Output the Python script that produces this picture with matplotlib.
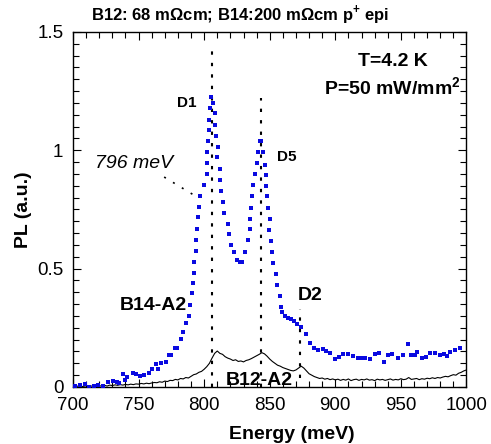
import matplotlib
matplotlib.use("Agg")
import matplotlib.pyplot as plt
from matplotlib.ticker import MultipleLocator

plt.rcParams['font.family'] = ['Liberation Sans', 'DejaVu Sans']
plt.rcParams['mathtext.fontset'] = 'custom'
plt.rcParams['mathtext.rm'] = 'Liberation Sans'
plt.rcParams['mathtext.bf'] = 'Liberation Sans:bold'

# B14-A2 (blue squares)
b14_energy = [701.5, 705.0, 709.2, 712.4, 716.0, 719.3, 723.1, 726.5, 730.3, 733.3,
              735.1, 737.9, 739.7, 741.5, 745.6, 747.9, 751.1, 754.2, 758.0, 760.1,
              763.4, 765.1, 767.0, 770.8, 773.3, 775.0, 777.9, 779.5, 782.2, 784.2,
              786.3, 788.1, 789.3, 790.4, 791.4, 792.4, 792.6, 793.4, 793.6, 794.9,
              795.1, 795.7, 796.5, 800.0, 801.8, 802.0, 802.5, 803.3, 803.5, 803.6,
              804.6, 805.3, 807.0, 807.9, 808.6, 809.4, 810.4, 810.1, 811.7, 812.4,
              813.2, 814.7, 815.5, 817.8, 819.1, 820.4, 822.4, 825.0, 827.0, 828.8,
              831.5, 833.8, 834.6, 835.3, 835.5, 836.1, 837.6, 838.4, 840.4, 840.7,
              842.5, 843.7, 844.8, 846.6, 847.1, 847.3, 848.1, 848.6, 849.9, 849.6,
              850.6, 851.7, 852.4, 854.7, 855.5, 857.5, 858.8, 859.3, 861.3, 863.6,
              866.4, 868.2, 870.8, 874.1, 877.9, 880.9, 883.4, 886.8, 890.3, 893.0,
              896.2, 899.5, 902.5, 905.6, 909.7, 913.2, 917.0, 920.4, 922.9, 926.7,
              930.0, 933.6, 936.9, 939.9, 943.5, 947.6, 951.6, 955.4, 957.7, 960.5,
              962.3, 966.1, 969.2, 972.5, 975.8, 979.6, 982.7, 985.3, 987.8, 991.6,
              995.4]
b14_pl = [0.004, 0.008, 0.011, 0.000, 0.004, 0.008, 0.006, 0.022, 0.025, 0.022,
          0.016, 0.055, 0.030, 0.041, 0.058, 0.055, 0.046, 0.050, 0.060, 0.075,
          0.097, 0.075, 0.100, 0.104, 0.135, 0.137, 0.163, 0.165, 0.203, 0.231,
          0.270, 0.300, 0.345, 0.396, 0.438, 0.480, 0.530, 0.575, 0.620, 0.666,
          0.717, 0.760, 0.807, 0.852, 0.900, 0.945, 0.994, 1.040, 1.086, 1.130,
          1.180, 1.226, 1.200, 1.156, 1.108, 1.060, 1.015, 0.970, 0.920, 0.876,
          0.830, 0.780, 0.736, 0.690, 0.646, 0.600, 0.570, 0.537, 0.530, 0.527,
          0.570, 0.620, 0.667, 0.710, 0.757, 0.806, 0.853, 0.899, 0.948, 0.994,
          1.040, 1.040, 0.994, 0.940, 0.894, 0.850, 0.806, 0.757, 0.710, 0.663,
          0.617, 0.570, 0.524, 0.477, 0.432, 0.386, 0.340, 0.315, 0.300, 0.293,
          0.286, 0.280, 0.266, 0.255, 0.226, 0.187, 0.163, 0.156, 0.159, 0.150,
          0.142, 0.118, 0.128, 0.139, 0.139, 0.131, 0.121, 0.124, 0.121, 0.118,
          0.139, 0.145, 0.107, 0.135, 0.139, 0.124, 0.135, 0.180, 0.135, 0.135,
          0.149, 0.121, 0.128, 0.142, 0.145, 0.135, 0.139, 0.131, 0.149, 0.156,
          0.166]

# B12-A2 (black line), 2 meV steps
b12_energy = list(range(700, 1001, 2))
b12_pl = [0.003, 0.002, 0.004, 0.001, 0.003, 0.005, 0.002, 0.004, 0.003, 0.006, 0.004,
          0.005, 0.007, 0.004, 0.008, 0.006, 0.009, 0.007, 0.010, 0.008, 0.011,
          0.009, 0.012, 0.010, 0.013, 0.012, 0.015, 0.013, 0.016, 0.014, 0.017,
          0.019, 0.018, 0.022, 0.020, 0.025, 0.023, 0.028, 0.027, 0.032, 0.030,
          0.036, 0.034, 0.040, 0.038, 0.045,
          0.052, 0.055, 0.062, 0.066, 0.075, 0.086, 0.100, 0.122, 0.142,
          0.152, 0.142, 0.138, 0.128, 0.122, 0.118, 0.112, 0.115, 0.108, 0.110,
          0.106, 0.112, 0.115, 0.120, 0.126, 0.132,
          0.138, 0.145, 0.140, 0.130, 0.118, 0.108, 0.100, 0.092, 0.088, 0.082,
          0.078, 0.074, 0.070, 0.068, 0.072,
          0.080, 0.088, 0.080, 0.068, 0.056, 0.050, 0.044, 0.040, 0.036, 0.038,
          0.033, 0.036, 0.031, 0.034, 0.030,
          0.033, 0.028, 0.032, 0.029, 0.034, 0.027, 0.031, 0.033, 0.028, 0.032,
          0.030, 0.034, 0.029, 0.031, 0.027, 0.033, 0.030, 0.032, 0.028, 0.031,
          0.034, 0.029, 0.032, 0.030, 0.035, 0.031, 0.033, 0.040, 0.032, 0.034,
          0.036, 0.031, 0.035, 0.033, 0.037, 0.035, 0.039, 0.036, 0.040, 0.038,
          0.042, 0.045, 0.043, 0.048, 0.052, 0.050, 0.058, 0.062, 0.068, 0.072]

# dotted marker lines: (energy, y_top, y_bottom)
marker_energy = [806, 843, 873]
marker_top = [1.45, 1.22, 0.33]
marker_bottom = [0.0, 0.0, 0.04]

xticks = [700, 750, 800, 850, 900, 950, 1000]
yticks = [0, 0.5, 1, 1.5]
ytick_labels = ['0', '0.5', '1', '1.5']

fig = plt.figure(figsize=(4.91, 4.44), dpi=100)
ax = fig.add_axes([0.1487, 0.1284, 0.8013, 0.7996])

ax.plot(b12_energy, b12_pl, color='black', lw=0.8, zorder=3)
ax.plot(b14_energy, b14_pl, ls='none', marker='s', ms=3.0, color='#0a0ae0',
        markeredgewidth=0, zorder=4)

for e, t, b in zip(marker_energy, marker_top, marker_bottom):
    ax.plot([e, e], [b, t], color='black', lw=1.5, ls=(0, (1.6, 3.9)), zorder=2)

# annotation dotted line for 796 meV
ax.plot([769.5, 795.4], [0.887, 0.80], color='black', lw=1.2, ls=(0, (1.2, 5)), zorder=2)

ax.set_xlim(700, 1000)
ax.set_ylim(0, 1.5)
ax.set_xticks(xticks)
ax.set_yticks(yticks)
ax.set_yticklabels(ytick_labels)
ax.xaxis.set_minor_locator(MultipleLocator(10))
ax.yaxis.set_minor_locator(MultipleLocator(0.05))
ax.tick_params(which='both', direction='in', top=True, right=True, labelsize=13.5, width=0.8)
ax.tick_params(which='major', length=6)
ax.tick_params(which='minor', length=4)
ax.tick_params(axis='x', pad=7)
ax.tick_params(axis='y', pad=7)
for s in ax.spines.values():
    s.set_linewidth(1.0)

ax.set_xlabel('Energy (meV)', fontsize=14, fontweight='bold')
ax.xaxis.set_label_coords(0.555, -0.11)
ax.set_ylabel('PL (a.u.)', fontsize=14, fontweight='bold')
ax.yaxis.set_label_coords(-0.105, 0.5)

fig.text(240/491, 1 - 15/444, r'B12: 68 m$\mathbf{\Omega}$cm; B14:200 m$\mathbf{\Omega}$cm p$^{\mathbf{+}}$ epi',
         ha='center', va='center', fontsize=12, fontweight='bold')

def place(text, px, py, **kw):
    ax.text(px / 491, 1 - py / 444, text, transform=fig.transFigure, **kw)

place('T=4.2 K', 393, 62, ha='center', va='center', fontsize=14, fontweight='bold')
place(r'P=50 mW/mm$^{\mathbf{2}}$', 392, 88, ha='center', va='center', fontsize=14, fontweight='bold')
place('D1', 187, 103, ha='center', va='center', fontsize=11, fontweight='bold')
place('D5', 287, 157, ha='center', va='center', fontsize=11, fontweight='bold')
place('D2', 310, 296, ha='center', va='center', fontsize=14, fontweight='bold')
place('B14-A2', 153, 305, ha='center', va='center', fontsize=14, fontweight='bold')
place('B12-A2', 259, 380, ha='center', va='center', fontsize=14, fontweight='bold', zorder=5)
place('796 meV', 134, 163, ha='center', va='center', fontsize=14, style='italic')

fig.savefig('out.png', dpi=100)
